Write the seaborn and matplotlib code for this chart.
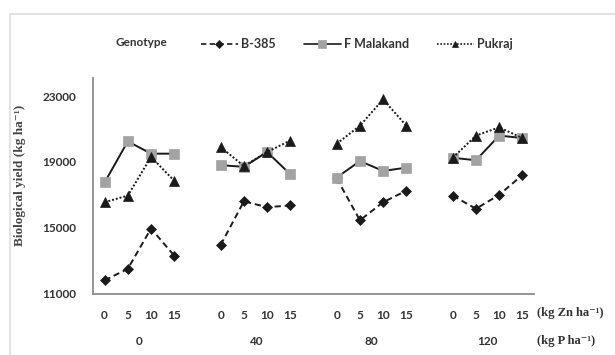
import matplotlib
matplotlib.use("Agg")
import matplotlib.pyplot as plt
from matplotlib.patches import Rectangle
import numpy as np
import pandas as pd
import seaborn as sns

# Phosphorus levels (kg P/ha) and zinc levels (kg Zn/ha) within each
p_levels = ["0", "40", "80", "120"]
zn_levels = ["0", "5", "10", "15"]
genotypes = ["B-385", "F Malakand", "Pukraj"]

# Biological yield (kg/ha), ordered P level by P level, Zn 0..15 within each
b385 = [11800, 12500, 14950, 13300,
        13950, 16600, 16250, 16350,
        18000, 15450, 16550, 17250,
        16950, 16150, 17000, 18200]
f_malakand = [17750, 20250, 19500, 19500,
              18800, 18700, 19600, 18250,
              18050, 19050, 18450, 18650,
              19250, 19100, 20600, 20450]
pukraj = [16550, 16950, 19300, 17850,
          19900, 18750, 19600, 20300,
          20100, 21200, 22800, 21200,
          19250, 20600, 21100, 20450]

y_ticks = [11000, 15000, 19000, 23000]

rows = []
for g, vals in zip(genotypes, [b385, f_malakand, pukraj]):
    for i, p in enumerate(p_levels):
        for j, z in enumerate(zn_levels):
            rows.append({"genotype": g, "P": p, "Zn": z,
                         "slot": i * (len(zn_levels) + 1) + j,
                         "yield": vals[i * len(zn_levels) + j]})
df = pd.DataFrame(rows)

sns.set_theme(style="white")
plt.rcParams["font.family"] = ["Lato", "DejaVu Sans"]

fig = plt.figure(figsize=(6.15, 3.55), dpi=100)
ax = fig.add_axes([93 / 615, 1 - 293.5 / 355, (534 - 93) / 615, (293.5 - 78) / 355])

ink = "#1a1a1a"
grey_sq = "#a3a3a3"
palette = {g: ink for g in genotypes}
dashes = {"B-385": (3.2, 2.0), "F Malakand": "", "Pukraj": (1.0, 1.0)}
markers = {"B-385": "D", "F Malakand": "s", "Pukraj": "^"}
msize = {"D": 5, "s": 7, "^": 6.5}

sns.lineplot(data=df, x="slot", y="yield", hue="genotype", style="genotype",
             units="P", estimator=None, palette=palette, dashes=dashes,
             markers=markers, linewidth=1.4, ax=ax, legend="full")


def style_marker(line):
    m = line.get_marker()
    if m in msize:
        face = grey_sq if m == "s" else ink
        line.set_markerfacecolor(face)
        line.set_markeredgecolor(face)
        line.set_markersize(msize[m])
        line.set_markeredgewidth(0.5)


for line in ax.get_lines():
    style_marker(line)

handles, labels = ax.get_legend_handles_labels()
ax.get_legend().remove()
keep = [(h, l) for h, l in zip(handles, labels) if l in genotypes]
for h, _ in keep:
    style_marker(h)
    h.set_linewidth(1.2)
leg = fig.legend([h for h, _ in keep], [l for _, l in keep], ncol=3,
                 loc="center left", bbox_to_anchor=(201 / 615, 1 - 44 / 355),
                 frameon=False, handlelength=2.95, columnspacing=2.25,
                 handletextpad=0.25, borderaxespad=0, borderpad=0, markerscale=0.75,
                 prop={"family": "Lato", "weight": "bold", "size": 9})
for t in leg.get_texts():
    t.set_color("#333333")
fig.text(116 / 615, 1 - 43 / 355, "Genotype", fontsize=8.5, fontweight="bold",
         color="#333333", va="center", ha="left")

ax.set_xlim(-0.5, 18.5)
ax.set_ylim(11000, 24100)
ax.set_yticks(y_ticks)
ax.set_yticklabels([str(v) for v in y_ticks], fontsize=8.5, fontweight="bold", color="#333333")
slots = sorted(df["slot"].unique())
ax.set_xticks(slots)
ax.set_xticklabels(zn_levels * len(p_levels), fontsize=8.5, fontweight="bold", color="#333333")
ax.tick_params(axis="x", length=0, pad=12)
ax.tick_params(axis="y", length=0, pad=12)
ax.set_xlabel("")
serif_fam = ["Liberation Serif", "DejaVu Serif"]
ax.set_ylabel("Biological yield (kg ha\u207b\u00b9)", family=serif_fam,
              fontsize=9.5, fontweight="bold", color="#444444")
ax.yaxis.set_label_coords(-0.152, 0.55)

for side in ["top", "right"]:
    ax.spines[side].set_visible(False)
for side in ["left", "bottom"]:
    ax.spines[side].set_color("#8c8c8c")
    ax.spines[side].set_linewidth(1.3)

# P-level labels under each Zn group
trans = ax.get_xaxis_transform()
for i, p in enumerate(p_levels):
    ax.text(i * (len(zn_levels) + 1) + 1.5, -0.222, p, transform=trans, ha="center",
            va="center", fontsize=8.5, fontweight="bold", color="#333333")

serif = {"family": serif_fam, "fontsize": 9, "fontweight": "bold", "color": "#333333"}
fig.text(537 / 615, 1 - 313 / 355, "(kg Zn ha\u207b\u00b9)", va="center", ha="left", **serif)
fig.text(537 / 615, 1 - 341 / 355, "(kg P ha\u207b\u00b9)", va="center", ha="left", **serif)

# outer chart frame
fig.patches.append(Rectangle((10 / 615, -0.1), 1.2, 1.1 - 14 / 355, transform=fig.transFigure,
                             fill=False, edgecolor="#e3e3e3", linewidth=1.5))

fig.savefig("out.png", dpi=100)
